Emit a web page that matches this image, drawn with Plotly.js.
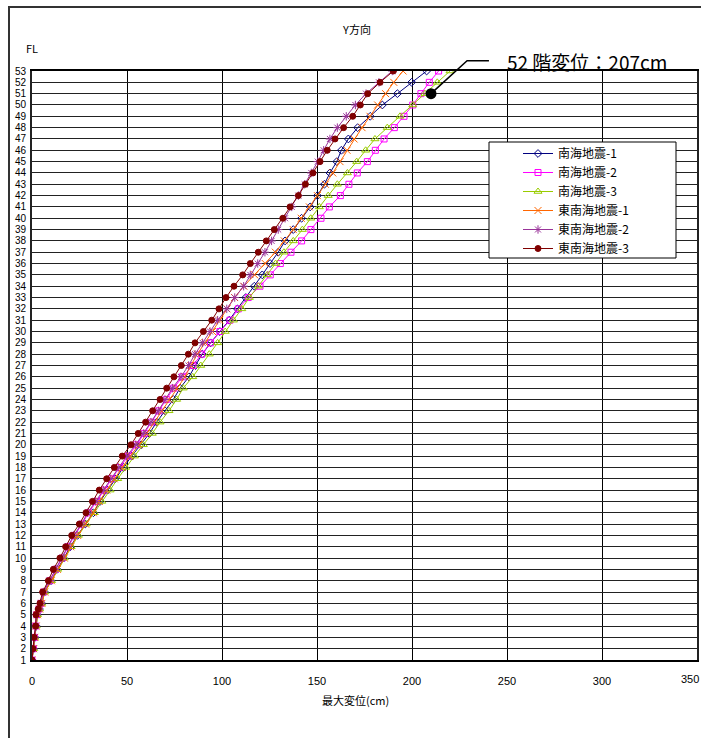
<!DOCTYPE html>
<html>
<head>
<meta charset="utf-8">
<script src="https://cdn.plot.ly/plotly-3.0.1.min.js"></script>
<style>html,body{margin:0;padding:0;background:#fff;}#chart{width:701px;height:738px;}</style>
</head>
<body>
<div id="chart"></div>
<script>
// Floor levels (FL) – a mezzanine point sits between 5 and 6
var floors = [1,2,3,4,5,5.5,6,7,8,9,10,11,12,13,14,15,16,17,18,19,20,21,22,23,24,25,26,27,28,29,30,31,32,33,34,35,36,37,38,39,40,41,42,43,44,45,46,47,48,49,50,51,52,53];

var seriesNames = ['南海地震-1','南海地震-2','南海地震-3','東南海地震-1','東南海地震-2','東南海地震-3'];

var nankai1 = [0,0.9,1.5,2.2,2.8,3.9,5.1,6.6,10.0,13.2,16.7,20.2,23.9,28.0,32.3,35.8,39.8,43.7,48.1,52.5,57.4,61.8,65.6,70.0,74.4,77.9,82.6,86.0,89.6,94.0,98.9,103.8,108.1,112.5,117.0,121.2,125.3,129.6,133.2,137.5,141.9,146.4,150.2,153.9,156.8,160.4,162.8,166.5,171.4,178.0,184.4,192.3,199.8,207.7];
var nankai2 = [0,0.7,1.3,2.0,2.5,3.7,4.7,6.1,9.4,12.3,15.9,19.0,22.4,26.4,29.7,34.0,38.0,41.9,46.0,50.7,54.9,59.1,62.8,66.8,70.7,74.6,79.1,84.7,89.3,94.0,98.9,104.2,108.6,113.8,120.0,125.4,130.7,136.3,141.9,146.8,152.1,156.5,162.3,166.8,171.2,176.5,180.7,185.3,190.7,195.8,200.4,204.7,209.1,214.0];
var nankai3 = [0,0.9,1.5,2.2,2.9,4.0,5.2,6.8,10.3,13.5,17.0,20.6,24.4,28.5,32.8,36.7,41.1,45.1,49.3,53.9,58.6,63.3,67.4,72.1,76.1,79.6,84.6,88.8,93.3,97.7,101.7,106.0,110.4,114.4,119.1,123.8,128.2,132.6,137.5,142.3,146.7,151.2,155.9,160.7,166.0,170.9,175.6,180.5,187.0,193.7,200.4,206.8,213.3,220.0];
var tonankai1 = [0,0.9,1.5,2.2,2.9,4.0,5.2,6.7,10.2,13.4,17.0,20.4,24.0,28.2,32.3,35.4,39.3,43.3,47.5,51.6,56.3,60.4,64.4,68.2,72.1,76.1,80.5,83.6,87.0,91.0,95.0,98.8,102.6,106.6,111.5,117.2,122.8,128.1,132.8,137.5,141.7,146.0,150.2,154.4,158.3,162.1,165.8,169.5,173.7,177.9,181.9,186.1,190.4,195.3];
var tonankai2 = [0,0.7,1.3,2.0,2.4,3.6,4.6,6.0,9.2,12.0,15.6,18.7,22.0,26.0,29.3,33.5,37.5,41.4,45.4,49.8,54.6,58.8,62.6,66.5,70.0,73.9,78.4,82.4,85.8,89.8,93.7,97.7,102.5,106.7,111.4,114.9,118.8,122.6,126.1,129.6,133.2,136.7,140.2,143.5,147.0,150.4,153.5,156.8,160.7,165.4,170.2,175.8,182.6,189.6];
var tonankai3 = [0,0.5,1.1,1.9,2.1,3.3,4.2,5.6,8.6,11.2,14.7,17.7,20.9,24.9,28.4,31.8,35.4,39.3,43.3,47.5,52.1,55.9,59.8,63.5,67.4,70.9,74.7,78.6,82.3,85.8,90.2,94.6,98.4,102.1,106.3,110.9,114.9,119.1,123.3,127.5,132.0,135.8,140.2,143.9,147.9,151.6,155.4,159.5,164.0,168.8,172.8,176.7,183.2,190.2];

var xTicks = [0,50,100,150,200,250,300,350];
var yTicks = [];
for (var f = 1; f <= 53; f++) yTicks.push(f);

// Callout: marked point and its leader line (data units)
var calloutText = '52 階変位：207cm';
var calloutPointX = [210];
var calloutPointY = [51];
var leaderX = [210, 229, 240.5];
var leaderY = [51, 53.9, 53.9];

var xRange = [0, 350];
var yRange = [1, 53];

var styles = [
  {color:'#000080', symbol:'diamond-open', size:6},
  {color:'#FF00FF', symbol:'square-open', size:6},
  {color:'#99CC00', symbol:'triangle-up-open', size:7},
  {color:'#FF6600', symbol:'x-thin-open', size:7},
  {color:'#993399', symbol:'asterisk-open', size:7},
  {color:'#800000', symbol:'circle', size:6}
];
var seriesData = [nankai1, nankai2, nankai3, tonankai1, tonankai2, tonankai3];

var traces = seriesData.map(function(vals, i){
  return {
    type:'scatter', mode:'lines+markers', name: seriesNames[i],
    x: vals, y: floors,
    line:{color: styles[i].color, width:1},
    marker:{color: styles[i].color, symbol: styles[i].symbol, size: styles[i].size,
            line:{color: styles[i].color, width:1}}
  };
});
traces.push({
  type:'scatter', mode:'markers', x: calloutPointX, y: calloutPointY, showlegend:false,
  marker:{color:'#000', size:11}, hoverinfo:'skip', cliponaxis:false
});

function px(v){ return (v - xRange[0]) / (xRange[1] - xRange[0]); }
function py(v){ return (v - yRange[0]) / (yRange[1] - yRange[0]); }
var leaderPath = 'M ' + leaderX.map(function(v,i){ return px(v) + ',' + py(leaderY[i]); }).join(' L ');

// last x tick label is placed inside the page (right-aligned) instead of being cut off
var lastTick = xTicks[xTicks.length - 1];
var xTickText = xTicks.map(function(v){ return v === lastTick ? '' : String(v); });

var tickFont = {family:'"Liberation Sans", Arial, sans-serif', size:11, color:'#000'};
var jp = '"Noto Sans CJK JP", sans-serif';

function pyPix(p){ return 1 - (p - 71) / 589; }

var layout = {
  width:701, height:738,
  margin:{l:32, r:4, t:71, b:78, pad:0},
  paper_bgcolor:'#fff', plot_bgcolor:'#fff',
  showlegend:true,
  title:{text:'Y方向', x:357/701, xanchor:'center', y:1-30/738, yanchor:'middle',
         font:{family:jp, size:11, color:'#000'}},
  xaxis:{range:xRange, tickmode:'array', tickvals:xTicks, ticktext:xTickText,
         showgrid:true, gridcolor:'#000', gridwidth:1, zeroline:false,
         showline:true, linecolor:'#000', linewidth:2, mirror:true,
         ticks:'', ticklabelstandoff:10, tickfont:tickFont},
  yaxis:{range:yRange, tickmode:'array', tickvals:yTicks, ticktext:yTicks.map(String),
         showgrid:true, gridcolor:'#222', gridwidth:1, zeroline:false,
         showline:true, linecolor:'#222', linewidth:2, mirror:true,
         ticks:'', ticklabelstandoff:2,
         tickfont:{family:'"Liberation Sans Narrow", "Liberation Sans", Arial, sans-serif', size:10, color:'#000'}},
  legend:{x:(489-32)/665, xanchor:'left', y:pyPix(139), yanchor:'top',
          bgcolor:'rgba(0,0,0,0)', borderwidth:0,
          font:{family:jp, size:12, color:'#000'}, tracegroupgap:0, indentation:29},
  shapes:[
    {type:'rect', xref:'paper', yref:'paper', layer:'above',
     x0:(489-32)/665, x1:(676-32)/665, y0:pyPix(258), y1:pyPix(142),
     line:{color:'#000', width:1}, fillcolor:'#fff'},
    {type:'path', xref:'paper', yref:'paper', path: leaderPath, line:{color:'#000', width:1.5}},
    {type:'rect', xref:'paper', yref:'paper', x0:-23/665, x1:1.2, y0:-0.3, y1:1+(71-7)/589,
     line:{color:'#333', width:2}, fillcolor:'rgba(0,0,0,0)'}
  ],
  annotations:[
    {text:String(lastTick), xref:'paper', yref:'paper', x:1+4/665, y:-(679-660)/589, xanchor:'right', yanchor:'middle',
     showarrow:false, font:tickFont},
    {text:'FL', xref:'paper', yref:'paper', x:0, y:1+(71-48)/589, xanchor:'center', yanchor:'middle',
     showarrow:false, font:{family:jp, size:11, color:'#000'}},
    {text:'最大変位(cm)', xref:'paper', yref:'paper', x:(355-32)/665, y:-(700-660)/589, xanchor:'center', yanchor:'middle',
     showarrow:false, font:{family:jp, size:11, color:'#000'}},
    {text:calloutText, xref:'paper', yref:'paper', x:(505-32)/665, y:1+(71-62)/589, xanchor:'left', yanchor:'middle',
     showarrow:false, font:{family:jp, size:19, color:'#000'}}
  ]
};

Plotly.newPlot('chart', traces, layout, {displayModeBar:false, staticPlot:true});
</script>
</body>
</html>
